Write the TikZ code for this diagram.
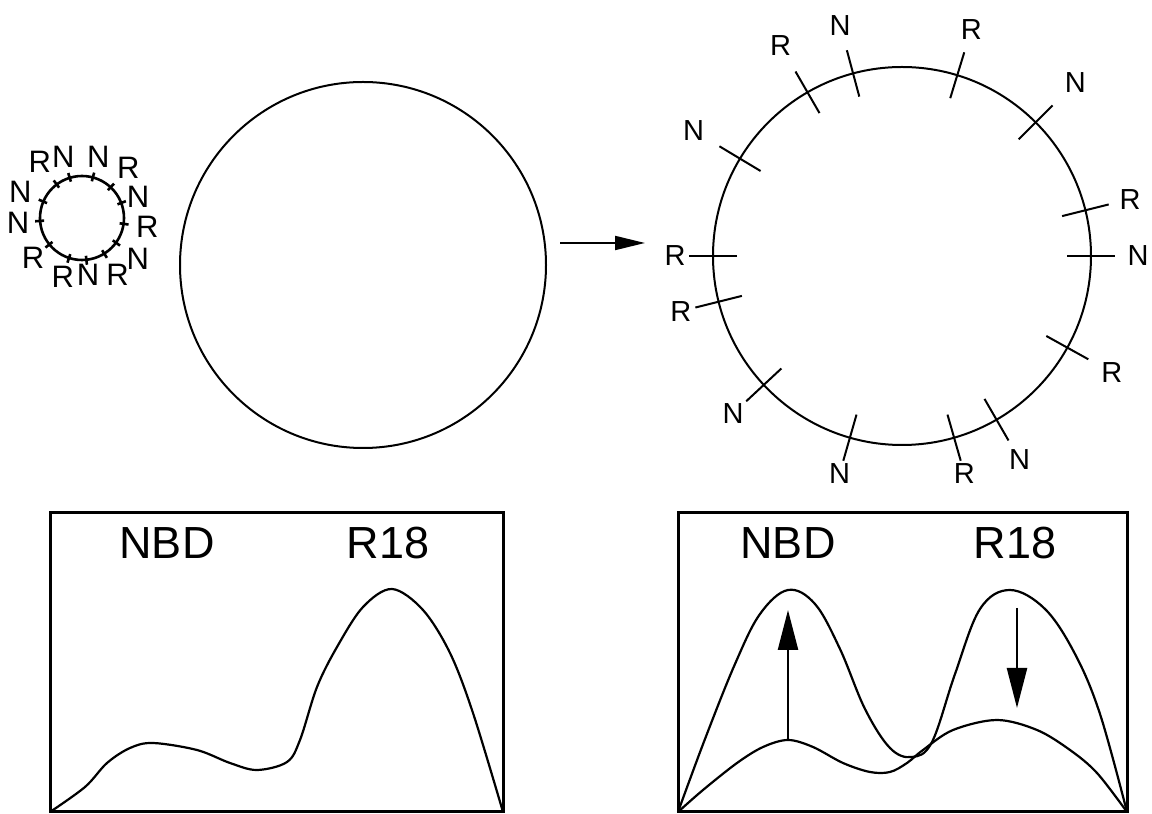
\documentclass[tikz,border=0pt]{standalone}
\usepackage{fontspec}
\setmainfont{Liberation Sans}
\usetikzlibrary{arrows.meta}

\tikzset{
  lbl/.style={font=\fontsize{14.5}{14.5}\selectfont, inner sep=0pt},
  smalllbl/.style={font=\fontsize{15.5}{15.5}\selectfont, inner sep=0pt},
  peaklbl/.style={font=\fontsize{22.5}{22.5}\selectfont, inner sep=0pt},
  frame/.style={line width=1.5pt},
  curve/.style={line width=1.1pt, line join=round},
  bigarrow/.style={-{Triangle[length=20pt,width=10pt]}, line width=1.2pt},
}

\begin{document}
\begin{tikzpicture}[x=0.5pt, y=0.5pt, line width=1pt, >={Triangle[length=15pt,width=7pt]}]
    \useasboundingbox (0,0) rectangle (1152,814);

    % small circle with labels
    \begin{scope}[shift={(82,596)}, line width=1.3pt]
        \draw (0,0) circle (42);
        \foreach \a/\r/\t [count=\i] in {127/70/R, 107/64/N, 75/63/N, 47/68/R, 157/67/N, 21/60/N, 184/64/N,
                                         -8/66/R, 219/63/R, -36/69/N, 252/62/R, 276/57/N, 302/67/R} {
            \draw (\a:38) -- (\a:47);
            \node[smalllbl] (s\i) at (\a:\r) {\t};
        }
    \end{scope}

    % big circle
    \draw (363,549) circle (183);

    % arrow
    \coordinate (aS) at (560,571);
    \coordinate (aE) at (645,571);
    \draw[->] (aS) -- (aE);

    % expanded circle with labels
    \begin{scope}[shift={(902,558)}]
        \draw (0,0) circle (189);
        \foreach \a/\r/\t [count=\i] in {120/243/R, 105/239/N, 73/237/R, 45/245/N, 14/235/R, 0/236/N, -29/240/R,
                                         -60/235/N, -74/226/R, 254/226/N, 223/231/N, 194/228/R, 180/227/R, 149/243/N} {
            \draw (\a:165) -- (\a:213);
            \node[lbl] (b\i) at (\a:\r) {\t};
        }
    \end{scope}

    % left spectrum
    \draw[frame] (50,2) rectangle (503,301);
    \node[peaklbl] (nbdL) at (167,271) {NBD};
    \node[peaklbl] (rL) at (388,271) {R18};
    \draw[curve] plot[smooth, tension=0.55] coordinates {(50,2) (85,27) (107,51) (130,66) (153,71) (197,64)
        (230,51) (257,44) (287,52) (300,74) (317,127) (337,167) (363,207) (392,225) (423,204) (450,161)
        (473,101) (503,2)};

    % right spectrum
    \draw[frame] (678,2) rectangle (1127,301);
    \node[peaklbl] (nbdR) at (788,271) {NBD};
    \node[peaklbl] (rR) at (1015,271) {R18};
    \draw[curve] plot[smooth, tension=0.6] coordinates {(678,2) (705,75) (735,150) (760,200) (788,224)
        (815,210) (840,165) (865,105) (890,66) (912,57) (932,72) (955,140) (980,205) (1010,224)
        (1045,205) (1075,160) (1100,100) (1127,2)};
    \draw[curve] plot[smooth, tension=0.55] coordinates {(678,2) (703,24) (737,51) (763,67) (788,74)
        (813,67) (843,51) (870,42) (890,42) (907,51) (923,64) (953,84) (997,94) (1037,84) (1070,64)
        (1097,41) (1127,2)};

    % intensity changes
    \coordinate (upS) at (788,74);
    \coordinate (upE) at (788,204);
    \draw[bigarrow] (upS) -- (upE);
    \coordinate (dnS) at (1017,206);
    \coordinate (dnE) at (1017,106);
    \draw[bigarrow] (dnS) -- (dnE);
\end{tikzpicture}
\end{document}
